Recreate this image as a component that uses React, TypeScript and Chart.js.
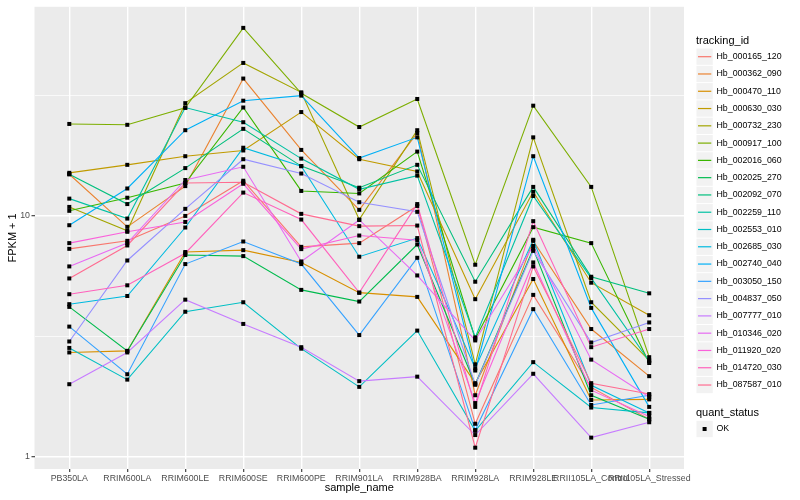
import React, { useEffect, useRef } from 'react';
import { Chart, registerables } from 'chart.js';

Chart.register(...registerables);

const FONT = "'Liberation Sans', Arial, Helvetica, sans-serif";

const sampleNames = [
  'PB350LA', 'RRIM600LA', 'RRIM600LE', 'RRIM600SE', 'RRIM600PE', 'RRIM901LA',
  'RRIM928BA', 'RRIM928LA', 'RRIM928LE', 'RRII105LA_Control', 'RRII105LA_Stressed',
];

const trackingIds = [
  'Hb_000165_120', 'Hb_000362_090', 'Hb_000470_110', 'Hb_000630_030', 'Hb_000732_230',
  'Hb_000917_100', 'Hb_002016_060', 'Hb_002025_270', 'Hb_002092_070', 'Hb_002259_110',
  'Hb_002553_010', 'Hb_002685_030', 'Hb_002740_040', 'Hb_003050_150', 'Hb_004837_050',
  'Hb_007777_010', 'Hb_010346_020', 'Hb_011920_020', 'Hb_014720_030', 'Hb_087587_010',
];

const seriesColors = [
  '#F8766D', '#EA8331', '#D89000', '#C09B00', '#A3A500', '#7CAE00', '#39B600', '#00BB4E',
  '#00BF7D', '#00C1A3', '#00BFC4', '#00BAE0', '#00B0F6', '#35A2FF', '#9590FF', '#C77CFF',
  '#E76BF3', '#FA62DB', '#FF62BC', '#FF6C91',
];

// FPKM + 1 values per tracking id, in sample order
const hb000165_120 = [7.30, 7.88, 10.0, 14.0, 7.44, 7.71, 11.0, 1.37, 4.70, 1.94, 1.43];
const hb000362_090 = [14.9, 9.01, 13.3, 37.2, 18.8, 10.6, 22.1, 1.80, 7.88, 3.39, 2.16];
const hb000470_110 = [2.71, 2.75, 7.08, 7.21, 6.41, 4.80, 4.61, 2.02, 5.47, 1.72, 1.73];
const hb000630_030 = [15.1, 16.3, 17.7, 18.7, 27.0, 17.2, 15.3, 4.51, 12.6, 5.28, 3.87];
const hb000732_230 = [10.9, 8.67, 29.4, 43.2, 32.6, 9.66, 22.7, 2.42, 21.2, 4.38, 2.51];
const hb000917_100 = [24.1, 23.9, 28.1, 60.4, 32.3, 23.4, 30.6, 6.27, 28.7, 13.2, 2.59];
const hb002016_060 = [10.5, 11.9, 13.7, 28.2, 12.7, 12.4, 18.5, 3.09, 8.98, 7.71, 2.45];
const hb002025_270 = [4.19, 2.75, 6.88, 6.81, 4.93, 4.41, 7.61, 2.00, 7.30, 1.80, 1.43];
const hb002092_070 = [14.9, 11.2, 15.8, 23.0, 16.1, 13.1, 16.3, 5.33, 13.2, 5.59, 4.77];
const hb002259_110 = [11.8, 9.75, 28.2, 24.5, 17.3, 12.9, 14.7, 3.13, 12.1, 5.52, 2.49];
const hb002553_010 = [2.83, 2.09, 4.00, 4.38, 2.81, 1.95, 3.34, 1.28, 2.47, 1.60, 1.52];
const hb002685_030 = [4.30, 4.65, 8.95, 19.2, 16.1, 6.77, 8.09, 2.33, 7.96, 1.98, 1.52];
const hb002740_040 = [9.15, 13.0, 22.7, 30.1, 31.6, 17.4, 21.2, 2.28, 17.7, 4.15, 1.61];
const hb003050_150 = [3.47, 2.20, 6.31, 7.83, 6.31, 3.20, 6.70, 1.29, 4.10, 1.64, 1.80];
const hb004837_050 = [3.01, 6.53, 10.7, 17.2, 15.0, 11.4, 10.4, 1.99, 7.16, 2.98, 3.61];
const hb007777_010 = [2.00, 2.71, 4.49, 3.56, 2.85, 2.06, 2.15, 1.23, 2.21, 1.20, 1.39];
const hb010346_020 = [6.17, 7.71, 14.1, 16.0, 6.47, 9.62, 5.66, 3.04, 7.51, 2.53, 1.77];
const hb011920_020 = [7.71, 8.59, 9.44, 13.6, 7.28, 8.29, 7.93, 1.67, 6.41, 1.89, 1.47];
const hb014720_030 = [4.73, 5.15, 7.00, 12.5, 9.66, 4.80, 11.2, 1.61, 9.51, 2.85, 3.39];
const hb087587_010 = [5.50, 7.54, 13.7, 13.8, 10.2, 9.07, 9.12, 1.09, 6.17, 2.02, 1.82];

const seriesValues = [
  hb000165_120, hb000362_090, hb000470_110, hb000630_030, hb000732_230,
  hb000917_100, hb002016_060, hb002025_270, hb002092_070, hb002259_110,
  hb002553_010, hb002685_030, hb002740_040, hb003050_150, hb004837_050,
  hb007777_010, hb010346_020, hb011920_020, hb014720_030, hb087587_010,
];

const yGridValues = [1, 3.1623, 10, 31.623];
const yTickLabels = ['1', '', '10', ''];

const isMajorY = (v: number) => v === 1 || v === 10;

const panelBackground = {
  id: 'panelBackground',
  beforeDraw(chart: any) {
    const { ctx, chartArea: a } = chart;
    ctx.save();
    ctx.fillStyle = '#EBEBEB';
    ctx.fillRect(a.left, a.top, a.right - a.left, a.bottom - a.top);
    ctx.restore();
  },
};

const squarePoints = {
  id: 'squarePoints',
  afterDatasetsDraw(chart: any) {
    const { ctx, chartArea: a } = chart;
    ctx.save();
    ctx.beginPath();
    ctx.rect(a.left, a.top, a.right - a.left, a.bottom - a.top);
    ctx.clip();
    ctx.fillStyle = '#000000';
    chart.data.datasets.forEach((_: any, i: number) => {
      const meta = chart.getDatasetMeta(i);
      meta.data.forEach((el: any) => {
        ctx.fillRect(el.x - 2, el.y - 2, 4, 4);
      });
    });
    ctx.restore();
  },
};

const ggDecorations = {
  id: 'ggDecorations',
  afterDraw(chart: any) {
    const { ctx, chartArea: a } = chart;
    ctx.save();
    ctx.fillStyle = '#000000';
    ctx.textBaseline = 'middle';

    // axis titles
    ctx.font = `11px ${FONT}`;
    ctx.textAlign = 'center';
    ctx.fillText('sample_name', (a.left + a.right) / 2, 487.5);
    ctx.save();
    ctx.translate(13, (a.top + a.bottom) / 2);
    ctx.rotate(-Math.PI / 2);
    ctx.fillText('FPKM + 1', 0, 0);
    ctx.restore();

    // legend: tracking_id
    const keyX = 696.5;
    const keyW = 17.28;
    const firstY = 56.7;
    ctx.textAlign = 'left';
    ctx.font = `11px ${FONT}`;
    ctx.fillText('tracking_id', 696, 40.5);
    ctx.font = `8.8px ${FONT}`;
    trackingIds.forEach((id, i) => {
      const cy = firstY + i * keyW;
      ctx.fillStyle = '#F2F2F2';
      ctx.fillRect(keyX, cy - keyW / 2 + 0.5, keyW - 1, keyW - 1);
      ctx.strokeStyle = seriesColors[i];
      ctx.lineWidth = 1.2;
      ctx.beginPath();
      ctx.moveTo(keyX + 1.5, cy);
      ctx.lineTo(keyX + keyW - 2.5, cy);
      ctx.stroke();
      ctx.fillStyle = '#000000';
      ctx.fillText(id, 716.5, cy);
    });

    // legend: quant_status
    ctx.font = `11px ${FONT}`;
    ctx.fillText('quant_status', 696, 412.7);
    const okY = 429;
    ctx.fillStyle = '#F2F2F2';
    ctx.fillRect(keyX, okY - keyW / 2 + 0.5, keyW - 1, keyW - 1);
    ctx.fillStyle = '#000000';
    ctx.fillRect(keyX + 6.1, okY - 2, 4, 4);
    ctx.font = `8.8px ${FONT}`;
    ctx.fillText('OK', 716.5, okY);
    ctx.restore();
  },
};

export default function App() {
  const canvasRef = useRef<HTMLCanvasElement | null>(null);

  useEffect(() => {
    if (!canvasRef.current) return;
    const datasets = seriesValues.map((vals, i) => ({
      label: trackingIds[i],
      data: vals.map((v, j) => ({ x: j, y: v })),
      borderColor: seriesColors[i],
      backgroundColor: seriesColors[i],
      borderWidth: 1.1,
      pointRadius: 0,
      pointHoverRadius: 0,
      tension: 0,
      fill: false,
      order: seriesValues.length - 1 - i,
    }));

    const chart = new Chart(canvasRef.current, {
      type: 'line',
      data: { datasets },
      options: {
        animation: false,
        responsive: false,
        events: [],
        layout: { padding: { left: 0, right: 116, top: 5, bottom: 0 } },
        plugins: {
          legend: { display: false },
          tooltip: { enabled: false },
          title: { display: false },
        },
        scales: {
          x: {
            type: 'linear',
            min: -0.6,
            max: 10.6,
            afterBuildTicks: (s: any) => {
              s.ticks = sampleNames.map((_, i) => ({ value: i }));
            },
            afterFit: (s: any) => {
              s.height = 31;
            },
            ticks: {
              autoSkip: false,
              maxRotation: 0,
              minRotation: 0,
              padding: 1.5,
              color: '#4D4D4D',
              font: { family: FONT, size: 8.8 },
              callback: (v: any) => sampleNames[Math.round(Number(v))] ?? '',
            },
            grid: {
              color: '#FFFFFF',
              lineWidth: 1.4,
              drawTicks: true,
              tickLength: 3,
              tickColor: '#333333',
              tickWidth: 1.1,
            },
            border: { display: false },
          },
          y: {
            type: 'logarithmic',
            min: 0.889,
            max: 73.9,
            afterBuildTicks: (s: any) => {
              s.ticks = yGridValues.map((v) => ({ value: v }));
            },
            afterFit: (s: any) => {
              s.width = 34.5;
            },
            ticks: {
              autoSkip: false,
              padding: 1.5,
              color: '#4D4D4D',
              font: { family: FONT, size: 8.8 },
              callback: (v: any) => {
                const idx = yGridValues.indexOf(Number(v));
                return idx >= 0 ? yTickLabels[idx] : '';
              },
            },
            grid: {
              color: '#FFFFFF',
              lineWidth: (c: any) => (c.tick && isMajorY(c.tick.value) ? 1.4 : 0.7),
              drawTicks: true,
              tickLength: 3,
              tickColor: (c: any) => (c.tick && isMajorY(c.tick.value) ? '#333333' : 'rgba(0,0,0,0)'),
              tickWidth: 1.1,
            },
            border: { display: false },
          },
        },
      } as any,
      plugins: [panelBackground, squarePoints, ggDecorations],
    });

    return () => {
      chart.destroy();
    };
  }, []);

  return (
    <div style={{ position: 'fixed', left: 0, top: 0, width: 800, height: 500, background: '#FFFFFF' }}>
      <canvas ref={canvasRef} width={800} height={500} style={{ display: 'block', width: 800, height: 500 }} />
    </div>
  );
}
